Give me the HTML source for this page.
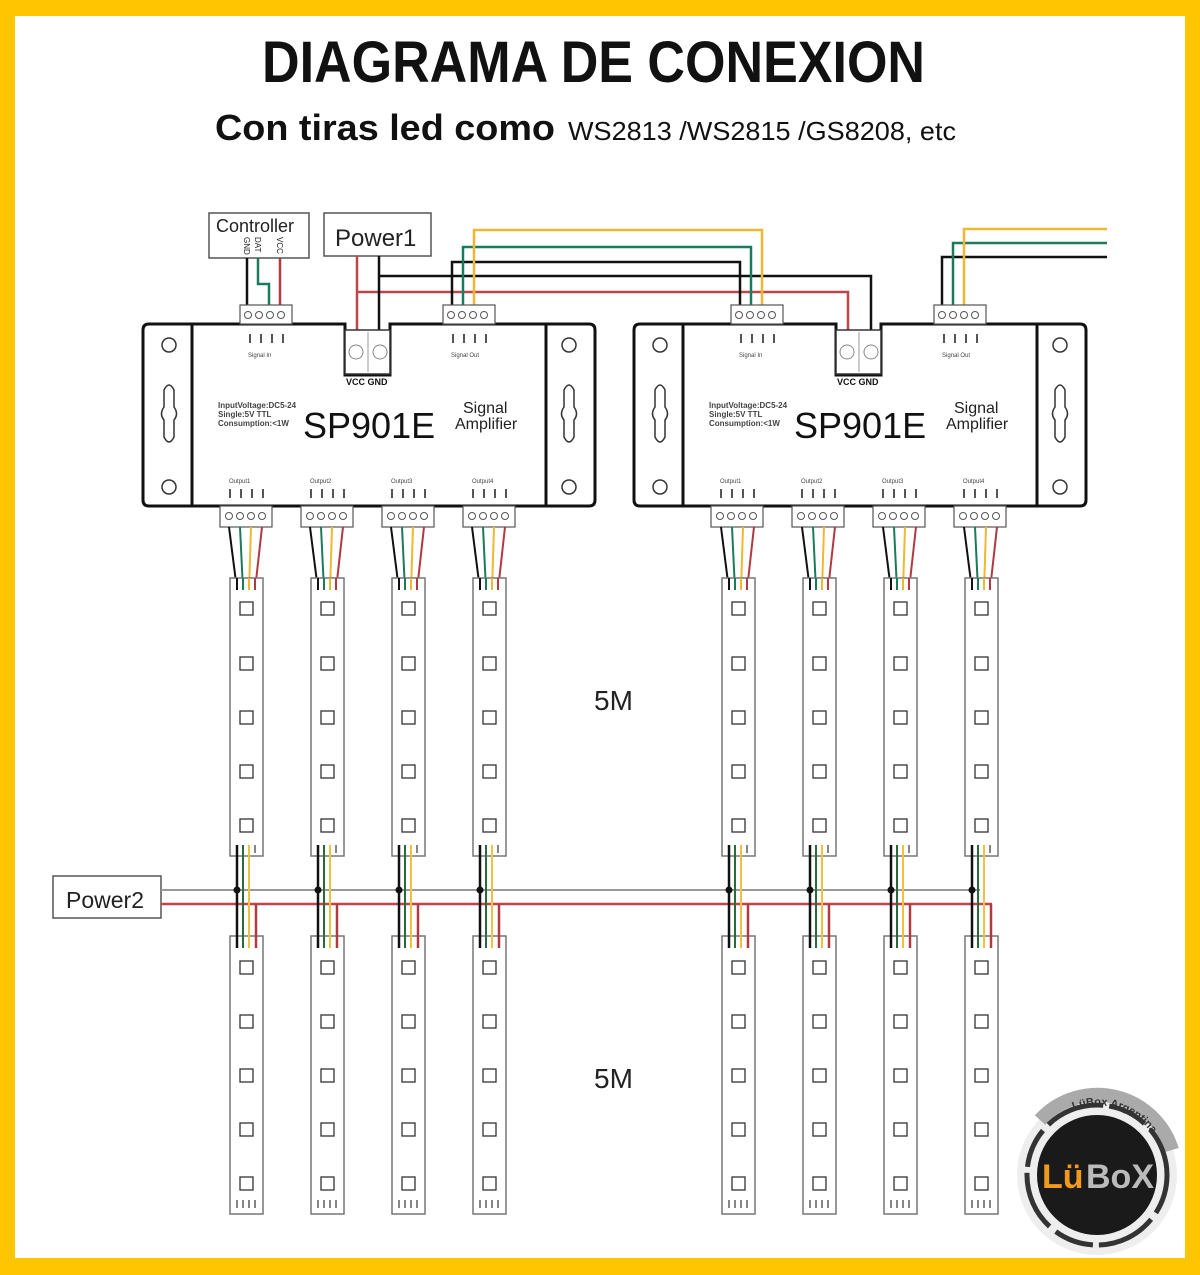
<!DOCTYPE html>
<html><head><meta charset="utf-8"><style>
html,body{margin:0;padding:0;background:#FFC600;}
svg{display:block;}
text{font-family:"Liberation Sans",sans-serif;}
</style></head><body>
<svg id="s" width="1200" height="1275" viewBox="0 0 1200 1275" xmlns="http://www.w3.org/2000/svg">
<rect x="0" y="0" width="1200" height="1275" fill="#FFC600"/>
<rect x="15" y="16" width="1170" height="1242" fill="#fff"/>
<text x="262" y="82" font-size="58" font-weight="bold" textLength="663" lengthAdjust="spacingAndGlyphs" fill="#111">DIAGRAMA DE CONEXION</text>
<text x="215" y="140" font-size="36" font-weight="bold" textLength="340" lengthAdjust="spacingAndGlyphs" fill="#111">Con tiras led como</text>
<text x="568" y="140" font-size="26" textLength="388" lengthAdjust="spacingAndGlyphs" fill="#111">WS2813 /WS2815 /GS8208, etc</text>

<rect x="209" y="213" width="100" height="45" fill="#fff" stroke="#555" stroke-width="1.5"/>
<text x="216" y="232" font-size="18" fill="#222">Controller</text>
<text font-size="8" fill="#222" transform="translate(244,237) rotate(90)">GND</text>
<text font-size="8" fill="#222" transform="translate(255,237) rotate(90)">DAT</text>
<text font-size="8" fill="#222" transform="translate(277,237) rotate(90)">VCC</text>
<rect x="324" y="213" width="107" height="43" fill="#fff" stroke="#555" stroke-width="1.5"/>
<text x="335" y="246" font-size="24" fill="#222">Power1</text>

<g fill="none" stroke-width="2.5">
<path d="M247 258V312" stroke="#111"/>
<path d="M258 258V284H269V312" stroke="#1a7a5a"/>
<path d="M280 258V312" stroke="#b03a40"/>
<path d="M357 256V332M357 292H848V332" stroke="#c0454a"/>
<path d="M379 256V332M379 276H871V332" stroke="#111"/>
<path d="M452 312V262H740V312" stroke="#111"/>
<path d="M463 312V247H751V312" stroke="#1a7a5a"/>
<path d="M474 312V230H762V312" stroke="#f0b830"/>
<path d="M942 312V257H1107" stroke="#111"/>
<path d="M953 312V243H1107" stroke="#1a7a5a"/>
<path d="M964 312V229H1107" stroke="#f0b830"/>
</g>
<g id="dev"></g>

<rect x="53" y="876" width="108" height="42" fill="#fff" stroke="#555" stroke-width="1.5"/>
<text x="66" y="908" font-size="23" fill="#222">Power2</text>
<path d="M161 890H980" stroke="#999" stroke-width="2" fill="none"/>
<path d="M161 904H992" stroke="#c0454a" stroke-width="2.5" fill="none"/>
<g id="str"></g>
<text x="594" y="710" font-size="28" fill="#222">5M</text>
<text x="594" y="1088" font-size="28" fill="#222">5M</text>

<g>
<defs><path id="arc" d="M1035 1150 A66 66 0 0 1 1160 1150"/></defs>
<circle cx="1097" cy="1175" r="80" fill="#eee"/>
<path d="M1040 1120 A78 78 0 0 1 1172 1150" fill="none" stroke="#aaa" stroke-width="14"/>
<circle cx="1097" cy="1175" r="70" fill="none" stroke="#333" stroke-width="5" stroke-dasharray="40 8 60 6"/>
<circle cx="1097" cy="1175" r="60" fill="#1a1a1a"/>
<text font-size="11" font-weight="bold" fill="#333"><textPath href="#arc" startOffset="35%">LüBox Argentina</textPath></text>
<text x="1042" y="1188" font-size="34" font-weight="bold" fill="#f29a1e">Lü</text>
<text x="1086" y="1188" font-size="34" font-weight="bold" fill="#bbb">BoX</text>
</g>
</svg>
<script>
var NS="http://www.w3.org/2000/svg";
function el(p,t,a,tx){var e=document.createElementNS(NS,t);for(var k in a)e.setAttribute(k,a[k]);if(tx)e.textContent=tx;p.appendChild(e);return e;}
var dev=document.getElementById('dev'),str=document.getElementById('str');
function pins(g,x,y){for(var j=0;j<4;j++){el(g,'path',{d:'M'+(x+j*11)+' '+y+'v9',stroke:'#555','stroke-width':2});}}
function device(x){
  var g=dev;
  el(g,'path',{d:'M'+(x+6)+' 324H'+(x+202)+'V375H'+(x+247)+'V324H'+(x+446)+'Q'+(x+452)+' 324 '+(x+452)+' 330V500Q'+(x+452)+' 506 '+(x+446)+' 506H'+(x+6)+'Q'+x+' 506 '+x+' 500V330Q'+x+' 324 '+(x+6)+' 324Z',fill:'#fff',stroke:'#111','stroke-width':3});
  el(g,'path',{d:'M'+(x+49)+' 324V506M'+(x+403)+' 324V506',stroke:'#111','stroke-width':3});
  el(g,'rect',{x:x+202,y:330,width:45,height:44,fill:'#fff',stroke:'#333','stroke-width':1.5});
  el(g,'path',{d:'M'+(x+225)+' 332V372',stroke:'#999','stroke-width':1});
  el(g,'circle',{cx:x+213,cy:352,r:7,fill:'none',stroke:'#888'});
  el(g,'circle',{cx:x+237,cy:352,r:7,fill:'none',stroke:'#888'});
  el(g,'text',{x:x+203,y:385,'font-size':9,'font-weight':'bold',fill:'#111'},'VCC GND');
  [[26,345],[26,487],[426,345],[426,487]].forEach(function(c){el(g,'circle',{cx:x+c[0],cy:c[1],r:7,fill:'#fff',stroke:'#333','stroke-width':1.5});});
  [26,426].forEach(function(c){el(g,'path',{d:'M'+(x+c-5)+' 390Q'+(x+c)+' 380 '+(x+c+5)+' 390V407Q'+(x+c+10)+' 414 '+(x+c+5)+' 420V437Q'+(x+c)+' 447 '+(x+c-5)+' 437V420Q'+(x+c-10)+' 414 '+(x+c-5)+' 407Z',fill:'none',stroke:'#333','stroke-width':1.5});});
  el(g,'text',{x:x+75,y:408,'font-size':8,'font-weight':'bold',fill:'#444'},'InputVoltage:DC5-24');
  el(g,'text',{x:x+75,y:417,'font-size':8,'font-weight':'bold',fill:'#444'},'Single:5V TTL');
  el(g,'text',{x:x+75,y:426,'font-size':8,'font-weight':'bold',fill:'#444'},'Consumption:<1W');
  el(g,'text',{x:x+160,y:438,'font-size':36,fill:'#111'},'SP901E');
  el(g,'text',{x:x+320,y:413,'font-size':16,fill:'#222'},'Signal');
  el(g,'text',{x:x+312,y:429,'font-size':16,fill:'#222'},'Amplifier');
  [97,300].forEach(function(o,i){
    el(g,'rect',{x:x+o,y:305,width:52,height:19,fill:'#fff',stroke:'#555','stroke-width':1.2});
    for(var j=0;j<4;j++)el(g,'circle',{cx:x+o+8+j*11,cy:315,r:3.5,fill:'none',stroke:'#555'});
    pins(g,x+o+10,334);
    el(g,'text',{x:x+o+8,y:357,'font-size':6,fill:'#444'},i?'Signal Out':'Signal In');
  });
  for(var k=0;k<4;k++){
    var ox=x+77+k*81;
    el(g,'rect',{x:ox,y:506,width:52,height:21,fill:'#fff',stroke:'#555','stroke-width':1.2});
    for(var j=0;j<4;j++)el(g,'circle',{cx:ox+9+j*11,cy:516,r:3.5,fill:'none',stroke:'#555'});
    pins(g,ox+10,489);
    el(g,'text',{x:ox+9,y:483,'font-size':6,fill:'#444'},'Output'+(k+1));
  }
}
device(143);device(634);
var cols=['#111','#1a7a5a','#f0b830','#b03a40'];
var cx=[246,327,408,489,738,819,900,981];
cx.forEach(function(c){
  for(var j=0;j<4;j++){
    el(str,'path',{d:'M'+(c-17+j*11)+' 527L'+(c-9+j*6)+' 590',stroke:cols[j],'stroke-width':2,fill:'none'});
  }
  [[578,856,[608,663,717,771,825]],[936,1214,[967,1021,1075,1129,1183]]].forEach(function(s){
    el(str,'rect',{x:c-16,y:s[0],width:33,height:s[1]-s[0],fill:'#fff',stroke:'#777','stroke-width':1.5});
    s[2].forEach(function(y){el(str,'rect',{x:c-6,y:y-6,width:13,height:13,fill:'none',stroke:'#333','stroke-width':1.3});});
  });
  for(var j=0;j<4;j++){el(str,'path',{d:'M'+(c-9+j*6)+' 1200V1208',stroke:'#444','stroke-width':1.3});}
  for(var j=0;j<4;j++){el(str,'path',{d:'M'+(c-9+j*6)+' 578V590',stroke:cols[j],'stroke-width':2});}
  el(str,'path',{d:'M'+(c-9)+' 845V948',stroke:'#111','stroke-width':2.5});
  el(str,'path',{d:'M'+(c-3)+' 845V948',stroke:'#2a6a3a','stroke-width':2});
  el(str,'path',{d:'M'+(c+3)+' 845V948',stroke:'#f0c040','stroke-width':2});
  el(str,'path',{d:'M'+(c+10)+' 904V948',stroke:'#b03a40','stroke-width':2.5,fill:'none'});
  el(str,'path',{d:'M'+(c+9)+' 845V853',stroke:'#444','stroke-width':1.3});
  el(str,'circle',{cx:c-9,cy:890,r:3.5,fill:'#111'});
});
</script>
</body></html>
